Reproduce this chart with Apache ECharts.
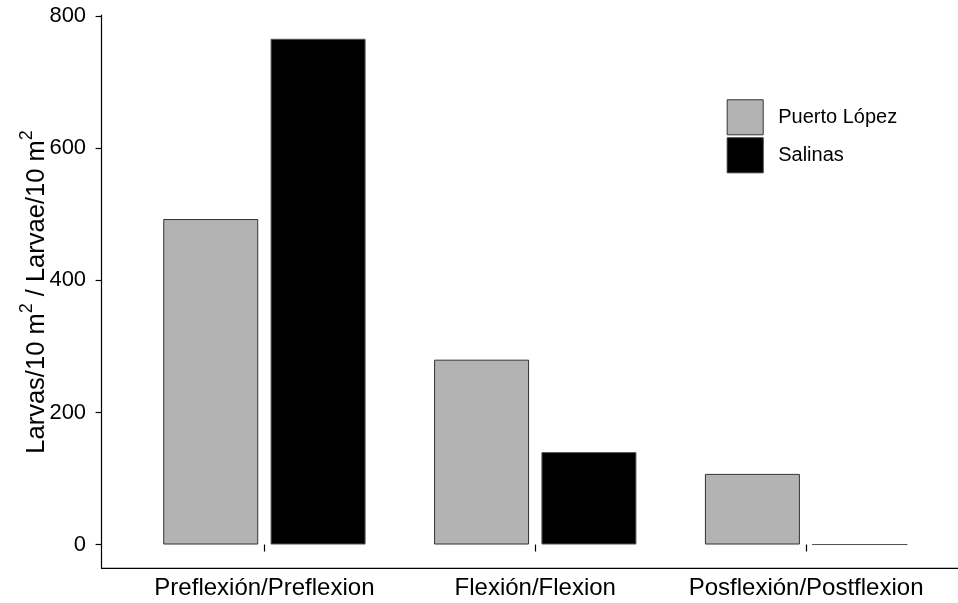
<!DOCTYPE html>
<html>
<head>
<meta charset="utf-8">
<script src="https://cdn.jsdelivr.net/npm/echarts@6/dist/echarts.min.js"></script>
<style>
html,body{margin:0;padding:0;background:#fff;}
#chart{width:958px;height:603px;}
</style>
</head>
<body>
<div id="chart"></div>
<script>
const categories = ['Preflexión/Preflexion', 'Flexión/Flexion', 'Posflexión/Postflexion'];
const seriesNames = ['Puerto López', 'Salinas'];
const puertoLopez = [493, 280, 107];
const salinas = [766, 140, 0];
const yTicks = [0, 200, 400, 600, 800];
const yTitle = 'Larvas/10 m{sup|2} / Larvae/10 m{sup|2}';

const FONT = '"Liberation Sans", Arial, sans-serif';
const gridLeft = 129, gridRight = 16.5, gridTop = 15, gridBottom = 34.7;
const chart = echarts.init(document.getElementById('chart'));
chart.setOption({
  backgroundColor: '#fff',
  animation: false,
  grid: { left: gridLeft, right: gridRight, top: gridTop, bottom: gridBottom, containLabel: false, outerBoundsMode: 'none' },
  legend: {
    orient: 'vertical',
    left: 726.7,
    top: 99.3,
    padding: 0,
    itemWidth: 36,
    itemHeight: 35,
    itemGap: 2,
    icon: 'rect',
    itemStyle: { borderColor: '#333', borderWidth: 1 },
    textStyle: { fontFamily: FONT, fontSize: 20, color: '#000', padding: [0, 0, 0, 10] },
    data: seriesNames
  },
  xAxis: {
    type: 'category',
    data: categories,
    axisLine: { show: false },
    axisTick: { show: true, interval: 0, alignWithLabel: true, length: 7, lineStyle: { color: '#000', width: 1.2 } },
    axisLabel: { interval: 0, fontFamily: FONT, fontSize: 24, color: '#000', margin: 8 },
    splitLine: { show: false }
  },
  yAxis: {
    type: 'value',
    min: -36,
    max: 802,
    offset: 27.4,
    axisLine: { show: true, lineStyle: { color: '#000', width: 1.2 } },
    axisTick: { show: true, length: 6, customValues: yTicks, lineStyle: { color: '#000', width: 1.2 } },
    axisLabel: { fontFamily: FONT, fontSize: 22, color: '#000', margin: 15.5, customValues: yTicks },
    splitLine: { show: false }
  },
  graphic: [
    {
      type: 'line',
      shape: { x1: 101.1, y1: 603 - gridBottom, x2: 958, y2: 603 - gridBottom },
      style: { stroke: '#000', lineWidth: 1.2 },
      z: 10
    },
    {
      type: 'text',
      x: 37,
      y: 292,
      rotation: Math.PI / 2,
      style: {
        text: yTitle,
        fontFamily: FONT, fontSize: 25.5, fill: '#000', lineHeight: 38,
        align: 'center', verticalAlign: 'middle',
        rich: { sup: { fontFamily: FONT, fontSize: 18, fill: '#000', verticalAlign: 'top', lineHeight: 38 } }
      }
    }
  ],
  series: [
    {
      name: seriesNames[0], type: 'bar', data: puertoLopez,
      barWidth: 95, barGap: '13%',
      itemStyle: { color: '#b3b3b3', borderColor: '#333', borderWidth: 1 }
    },
    {
      name: seriesNames[1], type: 'bar', data: salinas,
      barWidth: 95, barGap: '13%',
      itemStyle: { color: '#000', borderColor: '#555', borderWidth: 1 }
    }
  ]
});
</script>
</body>
</html>
